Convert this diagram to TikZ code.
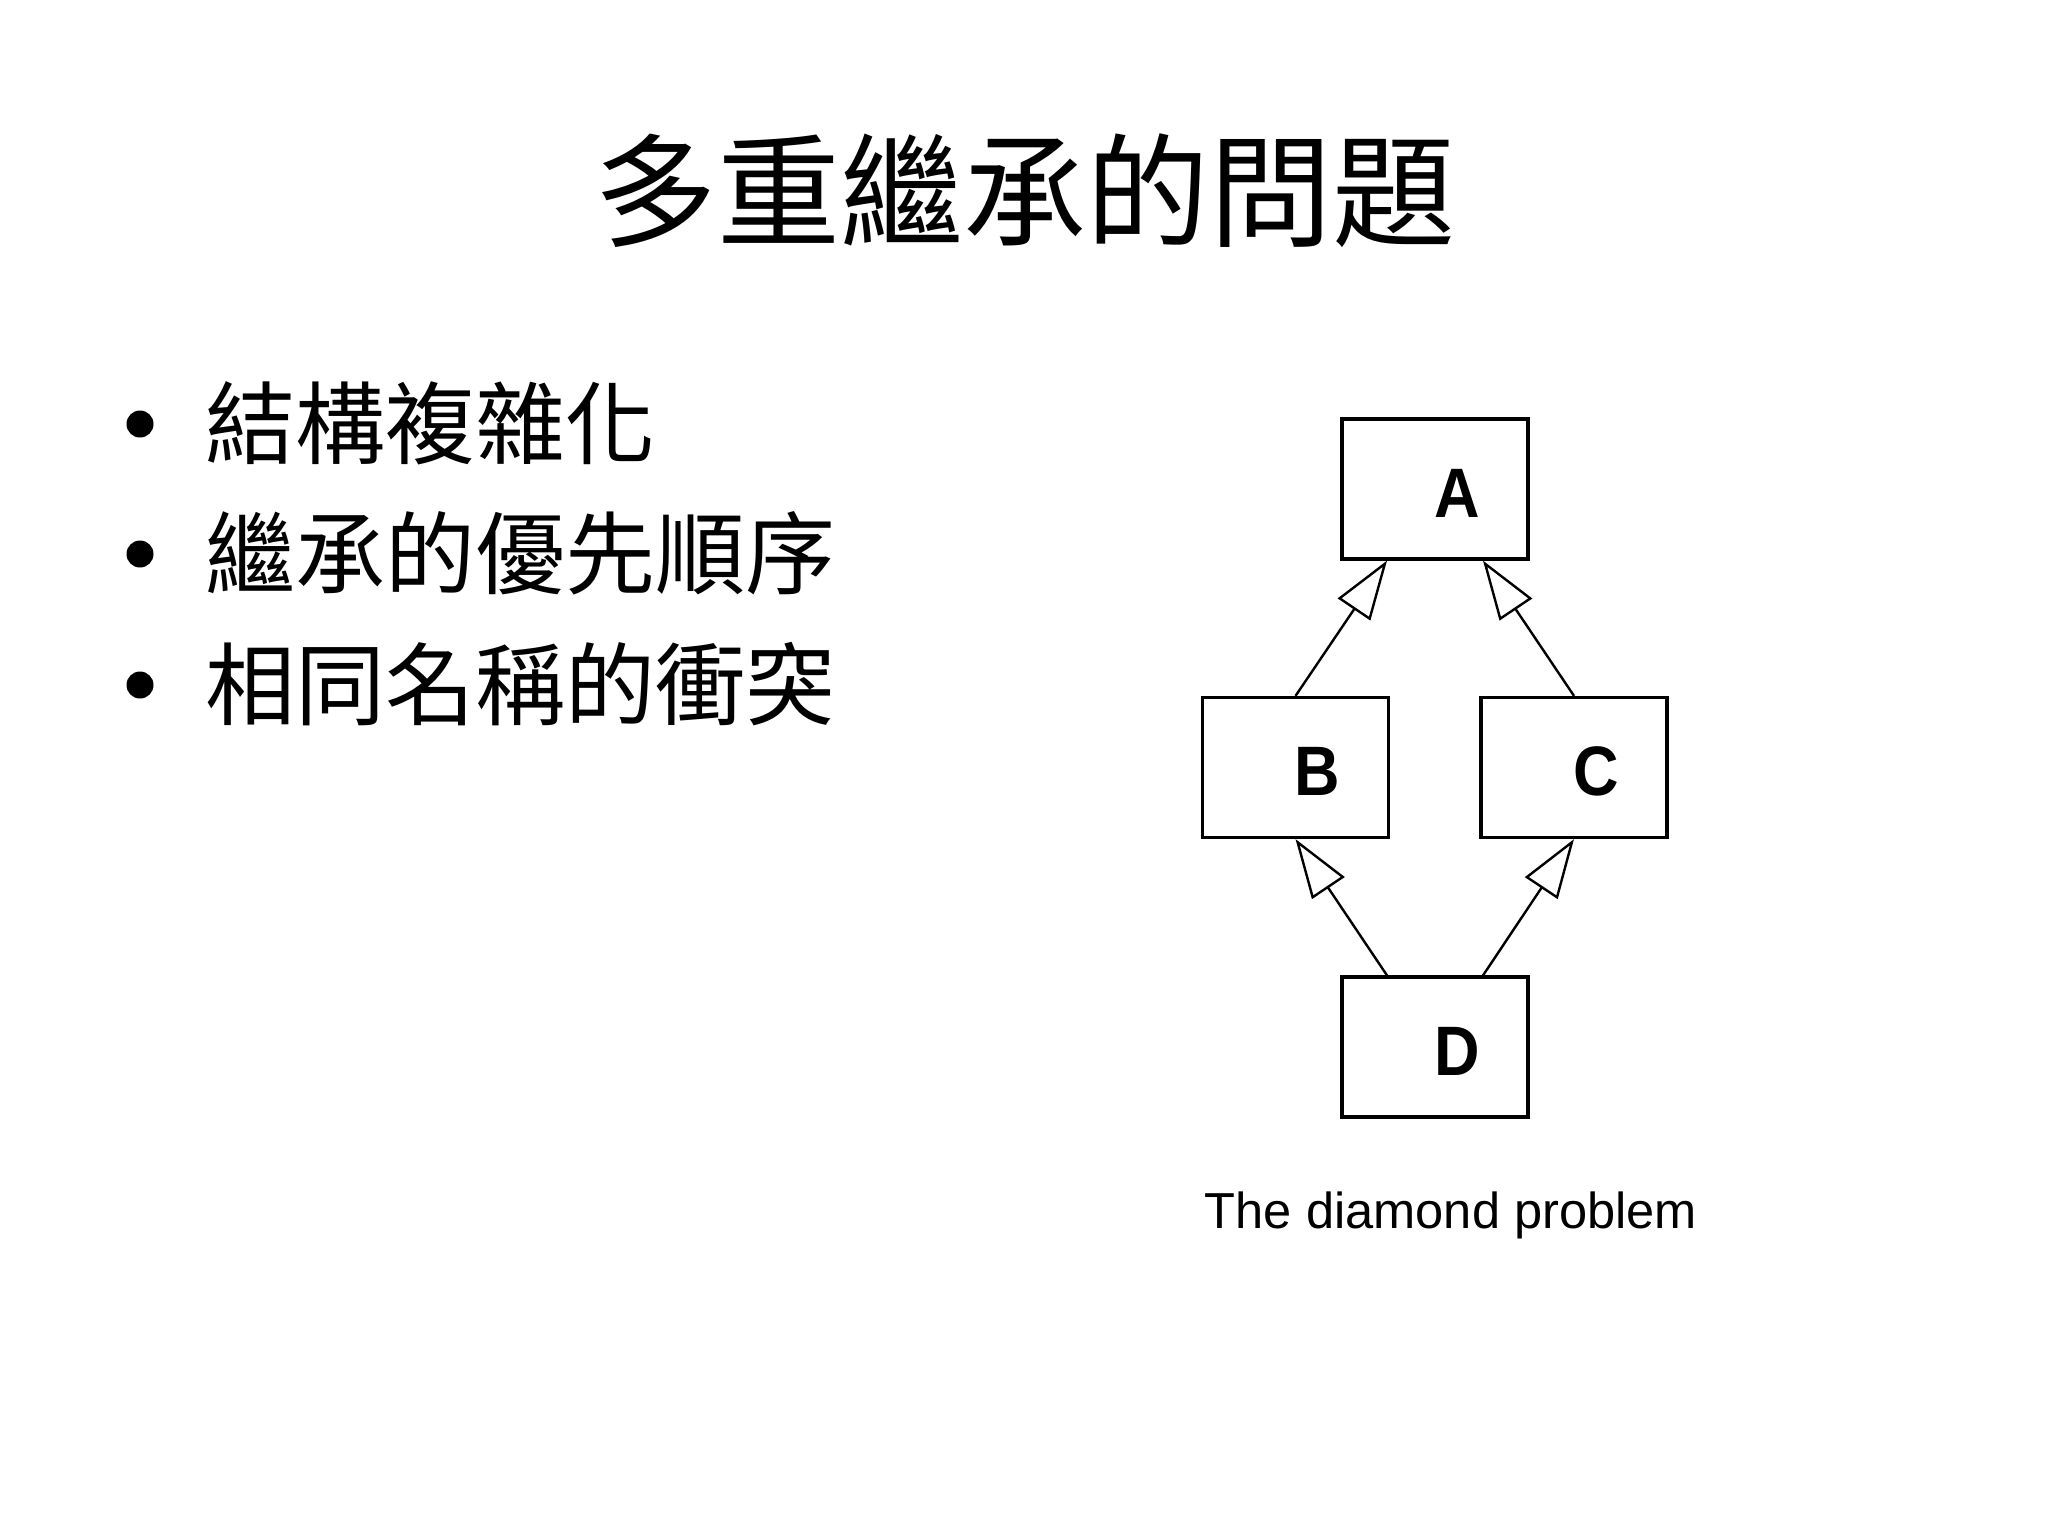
\documentclass[tikz,border=0pt]{standalone}
\usepackage{fontspec}
\setmainfont{Liberation Sans}
\newfontfamily\cjk{Noto Sans CJK TC}
\usetikzlibrary{arrows.meta}
\newcommand{\boxlabel}[1]{\hspace{22pt}\scalebox{0.9}[1]{\bfseries #1}}
\tikzset{
  px/.style={x=0.5pt,y=-0.5pt},
  classbox/.style={draw, line width=1.6pt, minimum width=93pt, minimum height=70pt,
    inner sep=0pt, font=\fontsize{35}{35}\selectfont, text height=28pt, text depth=0pt},
  inherit/.style={line width=1.2pt, -{Triangle[open, length=29.5pt, width=19.5pt, line width=1.2pt]}},
  titletext/.style={font=\cjk\fontsize{61.5}{61.5}\selectfont, anchor=base, inner sep=0pt},
  itemtext/.style={font=\cjk\fontsize{45}{45}\selectfont, anchor=base west, inner sep=0pt},
  bulletdot/.style={circle, fill=black, minimum size=13.5pt, inner sep=0pt},
  captiontext/.style={font=\fontsize{25.3}{25.3}\selectfont, anchor=base, inner sep=0pt}
}
\begin{document}
\begin{tikzpicture}[px]
\useasboundingbox[fill=white] (0,0) rectangle (2048,1536);
\node[titletext] (title) at (1025,237) {多重繼承的問題};
\node[bulletdot] (b1) at (140,424) {};
\node[bulletdot] (b2) at (140,554) {};
\node[bulletdot] (b3) at (140,685) {};
\node[itemtext] (i1) at (205,457) {結構複雜化};
\node[itemtext] (i2) at (205,587) {繼承的優先順序};
\node[itemtext] (i3) at (205,718) {相同名稱的衝突};
\node[classbox] (A) at (1435,489) {\boxlabel{A}};
\node[classbox] (B) at (1295.5,767.5) {\boxlabel{B}};
\node[classbox] (C) at (1574,767.5) {\boxlabel{C}};
\node[classbox] (D) at (1435,1047) {\boxlabel{D}};
\draw[inherit] (B.north) -- ([xshift=-24pt]A.south);
\draw[inherit] (C.north) -- ([xshift=24pt]A.south);
\draw[inherit] ([xshift=-24pt]D.north) -- (B.south);
\draw[inherit] ([xshift=24pt]D.north) -- (C.south);
\node[captiontext] (cap) at (1451,1228) {The diamond problem};
\end{tikzpicture}
\end{document}
